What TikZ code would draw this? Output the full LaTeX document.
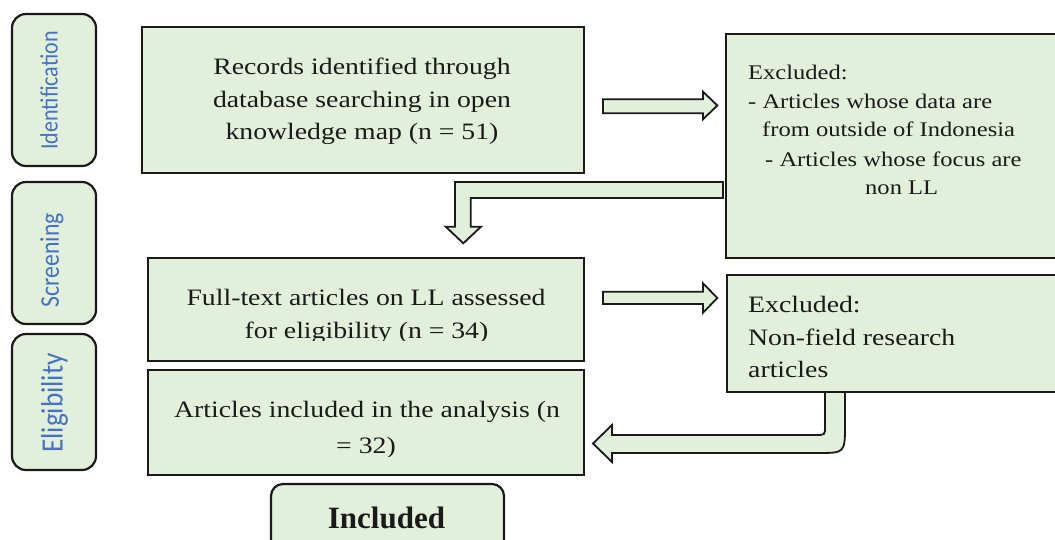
\documentclass[tikz,border=0pt]{standalone}
\usepackage{fontspec}
\setmainfont{Liberation Serif}[FakeStretch=1.18]
\newfontfamily\plainserif{Liberation Serif}
\newfontfamily\calib{Carlito}[FakeStretch=0.88]
\definecolor{boxgreen}{HTML}{E2EFDA}
\definecolor{labelblue}{HTML}{4472C4}
\definecolor{inkdark}{HTML}{1A1A1A}
\begin{document}
\begin{tikzpicture}[x=1pt,y=-1pt,
  box/.style={draw=inkdark, line width=2.2pt, fill=boxgreen, rectangle, inner sep=0pt},
  side/.style={box, rounded corners=14pt},
  blk/.style={draw=inkdark, line width=1.8pt, fill=boxgreen, line join=miter},
  txt/.style={inner sep=0pt, text=inkdark, font=\fontsize{23.5}{32.5}\selectfont},
  extxt/.style={inner sep=0pt, text=inkdark, font=\fontsize{20.8}{28.7}\selectfont, anchor=base west},
  lbl/.style={inner sep=0pt, rotate=90, text=labelblue}]
\clip (0,0) rectangle (1055,540);
\fill[white] (0,0) rectangle (1055,540);

% side stage boxes
\node[side, minimum width=84pt, minimum height=152pt] (sid) at (54,90) {};
\node[side, minimum width=84pt, minimum height=142pt] (sscr) at (54,253) {};
\node[side, minimum width=84pt, minimum height=136pt] (selg) at (54,402) {};
\node[lbl, font=\calib\fontsize{25}{30}\selectfont] (lid) at (49,90.5) {Identification};
\node[lbl, font=\calib\fontsize{27}{32}\selectfont] (lscr) at (52,260) {Screening};
\node[lbl, font=\calib\fontsize{31}{36}\selectfont] (lelg) at (54.5,403) {Eligibility};

% main boxes
\node[box, minimum width=442pt, minimum height=146pt] (rec) at (363,100) {};
\node[box, minimum width=436pt, minimum height=103pt] (full) at (366,309.5) {};
\node[box, minimum width=436pt, minimum height=105pt] (incl) at (366,422.5) {};
\node[box, minimum width=334pt, minimum height=224pt] (exa) at (893,146) {};
\node[box, minimum width=333pt, minimum height=117pt] (exb) at (893.5,333.5) {};
\node[box, rounded corners=12pt, minimum width=233pt, minimum height=80pt] (inc) at (387.5,524) {};

% texts of the records box
\node[txt, anchor=base] (r1) at (362,75) {Records identified through};
\node[txt, anchor=base] (r2) at (362,108) {database searching in open};
\node[txt, anchor=base] (r3) at (362,140) {knowledge map (n = 51)};

% texts of the full-text box (last line cut by the frame)
\node[txt, anchor=base] (f1) at (366,305) {Full-text articles on LL assessed};
\begin{scope}
  \clip (150,300) rectangle (582,340);
  \node[txt, anchor=base] (f2) at (366.5,338) {for eligibility (n = 34)};
\end{scope}

% texts of the included-articles box
\node[txt, anchor=base] (i1) at (367,417) {Articles included in the analysis (n};
\begin{scope}
  \clip (150,420) rectangle (582,456);
  \node[txt, anchor=base] (i2) at (366,453) {= 32)};
\end{scope}

% excluded 1
\node[extxt] (e1) at (748,80) {Excluded:};
\node[extxt] (e2) at (748,109) {- Articles whose data are};
\node[extxt] (e3) at (762,137) {from outside of Indonesia};
\node[extxt] (e4) at (765,167) {- Articles whose focus are};
\node[extxt] (e5) at (865,195) {non LL};

% excluded 2
\node[txt, anchor=base west] (x1) at (748,312) {Excluded:};
\node[txt, anchor=base west] (x2) at (748,345) {Non-field research};
\node[txt, anchor=base west] (x3) at (748,377) {articles};

% included label
\node[inner sep=0pt, anchor=base, text=inkdark, font=\plainserif\bfseries\fontsize{31}{36}\selectfont] (incl-t) at (386.5,528) {Included};

% block arrows
\draw[blk] (603,99.3) -- (703,99.3) -- (703,91.7) -- (717.3,105.5) -- (703,119.3) -- (703,113.3) -- (603,113.3) -- cycle;
\draw[blk] (603,291.7) -- (703,291.7) -- (703,283.3) -- (717.3,298) -- (703,312.7) -- (703,304) -- (603,304) -- cycle;
\draw[blk] (723,182) -- (455,182) -- (455,226.7) -- (445.7,226.7) -- (463.3,243.3) -- (481,226.7) -- (470.7,226.7) -- (470.7,198) -- (723,198) -- cycle;
\draw[blk] (825,392) -- (825,427) .. controls (825,435) .. (815,435) -- (612,435) -- (612,425) -- (593,443.5) -- (612,462) -- (612,453) -- (818,453) .. controls (845,453) .. (845,424) -- (845,392) -- cycle;
\end{tikzpicture}
\end{document}
